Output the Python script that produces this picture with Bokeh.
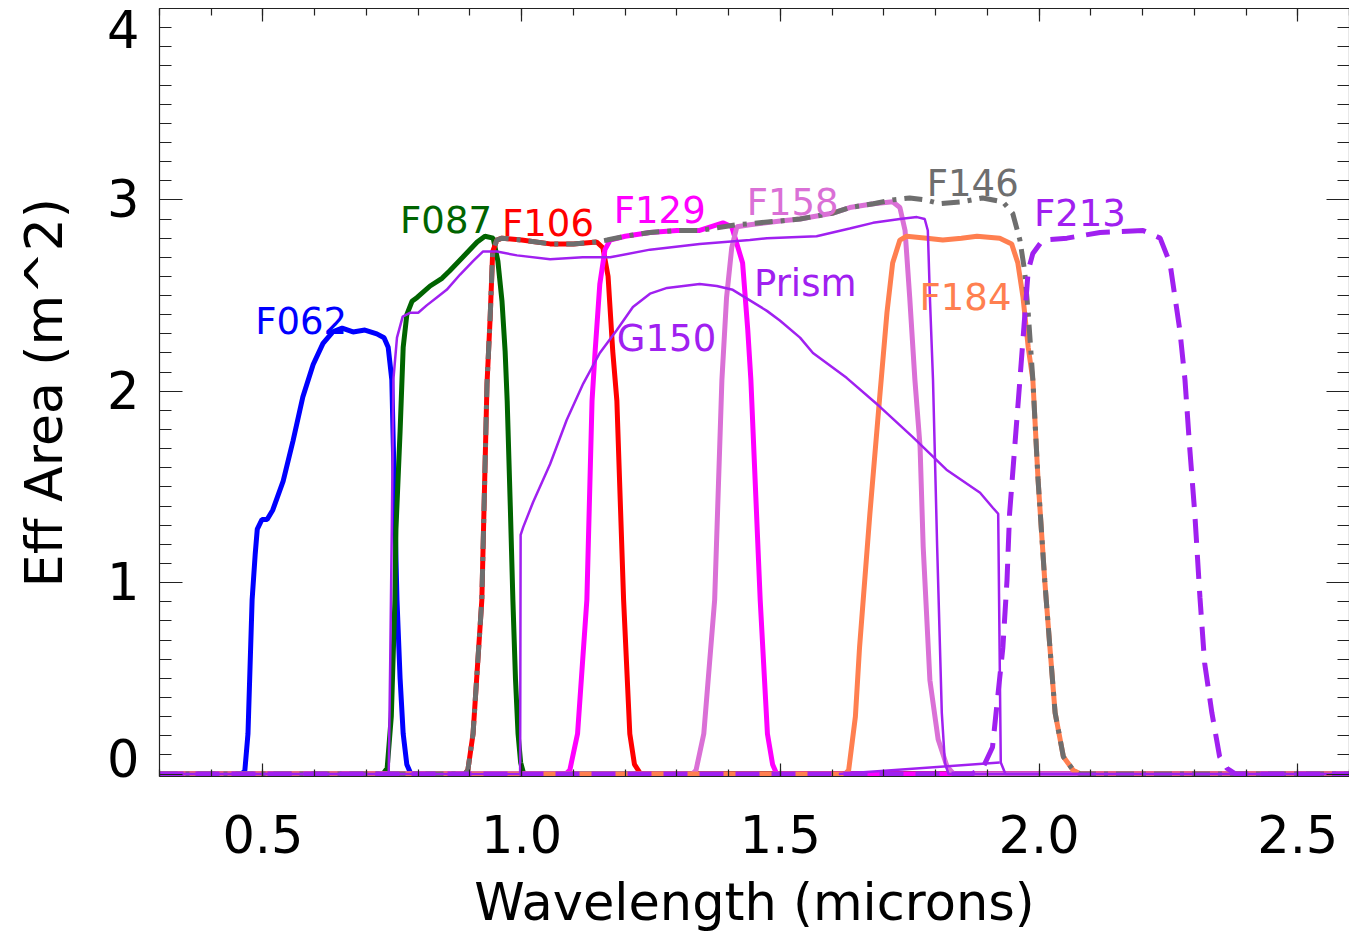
from bokeh.plotting import figure
from bokeh.models import Range1d, FixedTicker, LinearAxis, Label
from bokeh.embed import file_html
from bokeh.resources import INLINE

# ---------------- data (wavelength in microns, effective area in m^2) ----------------
f062_w = [0.30, 0.460, 0.465, 0.471, 0.479, 0.485, 0.489, 0.498, 0.508, 0.519, 0.539, 0.558, 0.577,
          0.597, 0.616, 0.635, 0.653, 0.674, 0.697, 0.720, 0.734, 0.742, 0.749, 0.752, 0.755, 0.759,
          0.765, 0.771, 0.778, 0.786, 2.60]
f062_a = [0, 0, 0.02, 0.21, 0.91, 1.15, 1.28, 1.33, 1.33, 1.38, 1.53, 1.74, 1.97,
          2.14, 2.25, 2.31, 2.33, 2.31, 2.32, 2.30, 2.28, 2.23, 2.06, 1.71, 1.36, 0.91,
          0.50, 0.21, 0.05, 0.0, 0.0]

f087_w = [0.30, 0.732, 0.740, 0.748, 0.755, 0.757, 0.765, 0.771, 0.778, 0.788, 0.798, 0.823, 0.846,
          0.861, 0.886, 0.914, 0.929, 0.945, 0.954, 0.962, 0.968, 0.972, 0.978, 0.983, 0.988, 0.993,
          0.998, 1.004, 2.60]
f087_a = [0, 0, 0.03, 0.30, 0.91, 1.28, 1.79, 2.23, 2.40, 2.47, 2.49, 2.55, 2.59,
          2.63, 2.70, 2.78, 2.81, 2.80, 2.68, 2.47, 2.21, 1.95, 1.40, 0.91, 0.50, 0.21,
          0.06, 0, 0]

f106_w = [0.30, 0.890, 0.896, 0.906, 0.923, 0.933, 0.939, 0.944, 0.952, 0.962, 1.000, 1.055, 1.100,
          1.145, 1.157, 1.167, 1.176, 1.184, 1.197, 1.209, 1.218, 1.230, 2.60]
f106_a = [0, 0, 0.02, 0.21, 0.91, 2.04, 2.38, 2.73, 2.79, 2.80, 2.79, 2.77, 2.77,
          2.78, 2.75, 2.60, 2.21, 1.95, 0.91, 0.21, 0.05, 0, 0]

f129_w = [0.30, 1.085, 1.093, 1.108, 1.126, 1.136, 1.142, 1.151, 1.161, 1.171, 1.200, 1.248, 1.300,
          1.344, 1.389, 1.406, 1.427, 1.437, 1.443, 1.461, 1.475, 1.485, 1.493, 2.60]
f129_a = [0, 0, 0.02, 0.21, 0.91, 1.95, 2.21, 2.56, 2.74, 2.79, 2.81, 2.83, 2.84,
          2.84, 2.88, 2.86, 2.67, 2.32, 2.06, 0.91, 0.21, 0.05, 0, 0]

f158_w = [0.30, 1.330, 1.337, 1.352, 1.373, 1.387, 1.396, 1.406, 1.416, 1.441, 1.500, 1.538, 1.600,
          1.634, 1.680, 1.717, 1.731, 1.741, 1.750, 1.760, 1.770, 1.776, 1.789, 1.805, 1.822, 1.835, 2.60]
f158_a = [0, 0, 0.02, 0.21, 0.91, 2.06, 2.49, 2.75, 2.86, 2.87, 2.89, 2.90, 2.93,
          2.96, 2.98, 2.99, 2.96, 2.84, 2.49, 2.06, 1.71, 1.19, 0.49, 0.18, 0.04, 0, 0]

f184_w = [0.30, 1.625, 1.632, 1.645, 1.653, 1.673, 1.692, 1.706, 1.717, 1.731, 1.744, 1.783, 1.814,
          1.850, 1.880, 1.924, 1.947, 1.959, 1.969, 1.979, 1.988, 1.998, 2.011, 2.021, 2.031, 2.047,
          2.066, 2.080, 2.60]
f184_a = [0, 0, 0.02, 0.30, 0.66, 1.36, 1.97, 2.41, 2.67, 2.79, 2.81, 2.80, 2.79,
          2.80, 2.81, 2.80, 2.77, 2.67, 2.49, 2.23, 2.06, 1.54, 1.01, 0.66, 0.32, 0.09,
          0.02, 0, 0]

f146_w = [0.30, 0.890, 0.896, 0.906, 0.923, 0.933, 0.939, 0.944, 0.952, 0.962, 1.000, 1.055, 1.100,
          1.145, 1.165, 1.200, 1.248, 1.300, 1.344, 1.416, 1.500, 1.538, 1.600, 1.634, 1.680, 1.717,
          1.750, 1.780, 1.808, 1.850, 1.891, 1.930, 1.949, 1.963, 1.972, 1.979, 1.988, 1.998, 2.011,
          2.021, 2.031, 2.047, 2.066, 2.080, 2.60]
f146_a = [0, 0, 0.02, 0.21, 0.91, 2.04, 2.38, 2.73, 2.79, 2.80, 2.79, 2.77, 2.77,
          2.78, 2.79, 2.81, 2.83, 2.84, 2.84, 2.87, 2.89, 2.90, 2.93, 2.96, 2.98, 3.00,
          3.01, 3.00, 2.98, 2.99, 3.01, 2.99, 2.93, 2.79, 2.63, 2.41, 2.06, 1.54, 1.01,
          0.66, 0.32, 0.09, 0.02, 0, 0]

f213_w = [0.30, 1.870, 1.891, 1.910, 1.920, 1.930, 1.938, 1.943, 1.953, 1.963, 1.979, 1.988, 2.007,
          2.054, 2.118, 2.201, 2.234, 2.253, 2.272, 2.282, 2.291, 2.301, 2.311, 2.320, 2.334, 2.349,
          2.363, 2.380, 2.60]
f213_a = [0, 0, 0.03, 0.14, 0.40, 0.66, 1.01, 1.36, 1.71, 2.06, 2.63, 2.72, 2.79,
          2.80, 2.83, 2.84, 2.80, 2.67, 2.32, 2.06, 1.71, 1.36, 0.92, 0.58, 0.32, 0.09,
          0.03, 0, 0]

prism_w = [0.30, 0.743, 0.746, 0.749, 0.752, 0.759, 0.770, 0.784, 0.800, 0.817, 0.836, 0.855, 0.881,
           0.906, 0.925, 0.952, 0.991, 1.055, 1.118, 1.171, 1.248, 1.344, 1.441, 1.474, 1.570, 1.634,
           1.679, 1.731, 1.764, 1.779, 1.785, 1.789, 1.795, 1.803, 1.812, 1.818, 1.825, 2.60]
prism_a = [0, 0, 0.60, 1.28, 2.06, 2.28, 2.39, 2.41, 2.41, 2.45, 2.49, 2.53, 2.61,
           2.68, 2.73, 2.73, 2.71, 2.69, 2.70, 2.70, 2.74, 2.77, 2.79, 2.80, 2.81, 2.85,
           2.88, 2.90, 2.91, 2.90, 2.84, 2.49, 2.06, 1.19, 0.32, 0.06, 0, 0]

g150_w = [0.30, 0.997, 0.998, 1.003, 1.022, 1.055, 1.087, 1.119, 1.151, 1.184, 1.215, 1.248, 1.281,
          1.344, 1.377, 1.408, 1.474, 1.499, 1.538, 1.563, 1.628, 1.692, 1.756, 1.821, 1.886, 1.911,
          1.921, 1.926, 1.935, 2.60]
g150_a = [0, 0, 1.25, 1.29, 1.42, 1.62, 1.85, 2.04, 2.20, 2.32, 2.44, 2.51, 2.54,
          2.56, 2.55, 2.53, 2.42, 2.37, 2.28, 2.20, 2.07, 1.92, 1.76, 1.59, 1.47, 1.39,
          1.36, 0.06, 0, 0]

g150_tail_w = [1.613, 1.924]
g150_tail_a = [0.0, 0.06]

# curve name labels
label_text = ["F062", "F087", "F106", "F129", "G150", "F158", "Prism", "F146", "F184", "F213"]
label_x = [0.485, 0.765, 0.962, 1.178, 1.184, 1.435, 1.449, 1.783, 1.769, 1.990]
label_y = [2.364, 2.892, 2.876, 2.944, 2.275, 2.986, 2.563, 3.085, 2.490, 2.928]
label_color = ["#0000FF", "#006400", "#FF0000", "#FF00FF", "#A020F0", "#DA70D6", "#A020F0",
               "#6E6E6E", "#FF7F50", "#A020F0"]

x_major = [0.5, 1.0, 1.5, 2.0, 2.5]
x_minor = [round(0.3 + 0.1 * i, 1) for i in range(24)]
y_major = [0, 1, 2, 3, 4]
y_minor = [round(0.1 * i, 1) for i in range(41)]

FONT = "DejaVu Sans"

p = figure(width=1349, height=936,
           x_range=Range1d(0.3, 2.6), y_range=Range1d(-0.013, 4.0),
           output_backend="svg", toolbar_location=None,
           min_border_left=159, min_border_right=0, min_border_top=8, min_border_bottom=160,
           x_axis_label="Wavelength (microns)", y_axis_label="Eff Area (m^2)")
p.xgrid.visible = False
p.ygrid.visible = False
p.outline_line_color = None
p.background_fill_color = "white"
p.border_fill_color = "white"


def style_axis(ax, major_in, minor_in):
    ax.axis_line_color = "#222222"
    ax.axis_line_width = 1.2
    ax.major_tick_line_color = "#222222"
    ax.minor_tick_line_color = "#222222"
    ax.major_tick_line_width = 1.2
    ax.minor_tick_line_width = 1.2
    ax.major_tick_in = major_in
    ax.major_tick_out = 0
    ax.minor_tick_in = minor_in
    ax.minor_tick_out = 0


xax = p.xaxis[0]
xax.ticker = FixedTicker(ticks=x_major, minor_ticks=x_minor)
xax.major_label_overrides = {0.5: "0.5", 1.0: "1.0", 1.5: "1.5", 2.0: "2.0", 2.5: "2.5"}
style_axis(xax, 13, 7)
xax.major_label_text_font = FONT
xax.major_label_text_font_size = "51px"
xax.major_label_text_color = "black"
xax.major_label_standoff = 38
xax.axis_label_text_font = FONT
xax.axis_label_text_font_size = "51px"
xax.axis_label_text_font_style = "normal"
xax.axis_label_text_color = "black"
xax.axis_label_standoff = 17

yax = p.yaxis[0]
yax.ticker = FixedTicker(ticks=y_major, minor_ticks=y_minor)
yax.major_label_overrides = {0: "\n0", 4: "4\n"}
yax.major_label_text_line_height = -0.5
style_axis(yax, 23, 12)
yax.major_label_text_font = FONT
yax.major_label_text_font_size = "51px"
yax.major_label_text_color = "black"
yax.major_label_standoff = 20
yax.axis_label_text_font = FONT
yax.axis_label_text_font_size = "52px"
yax.axis_label_text_font_style = "normal"
yax.axis_label_text_color = "black"
yax.axis_label_standoff = 30

top = LinearAxis(ticker=FixedTicker(ticks=x_major, minor_ticks=x_minor),
                 major_label_overrides={t: "" for t in x_major},
                 major_label_text_font_size="1px", major_label_standoff=0)
style_axis(top, 13, 7)
p.add_layout(top, "above")

right = LinearAxis(ticker=FixedTicker(ticks=y_major, minor_ticks=y_minor),
                   major_label_overrides={t: "" for t in y_major},
                   major_label_text_font_size="1px", major_label_standoff=0)
style_axis(right, 23, 12)
p.add_layout(right, "right")

# ---------------- curves ----------------
p.line(f062_w, f062_a, line_color="#0000FF", line_width=5)
p.line(f087_w, f087_a, line_color="#006400", line_width=5)
p.line(f106_w, f106_a, line_color="#FF0000", line_width=5)
p.line(f129_w, f129_a, line_color="#FF00FF", line_width=5)
p.line(f158_w, f158_a, line_color="#DA70D6", line_width=5)
p.line(f184_w, f184_a, line_color="#FF7F50", line_width=5)
p.line(f146_w, f146_a, line_color="#6E6E6E", line_width=5, line_dash="18 8 4 8")
p.line(f213_w, f213_a, line_color="#A020F0", line_width=5, line_dash="24 12")
p.line(prism_w, prism_a, line_color="#A020F0", line_width=2.5)
p.line(g150_w, g150_a, line_color="#A020F0", line_width=2.5)
p.line(g150_tail_w, g150_tail_a, line_color="#A020F0", line_width=2.5)

for t, lx, ly, c in zip(label_text, label_x, label_y, label_color):
    p.add_layout(Label(x=lx, y=ly, text=t, text_color=c, text_font=FONT,
                       text_font_size="37px", text_baseline="alphabetic", text_align="left"))

open("out.html", "w").write(file_html(p, INLINE))
